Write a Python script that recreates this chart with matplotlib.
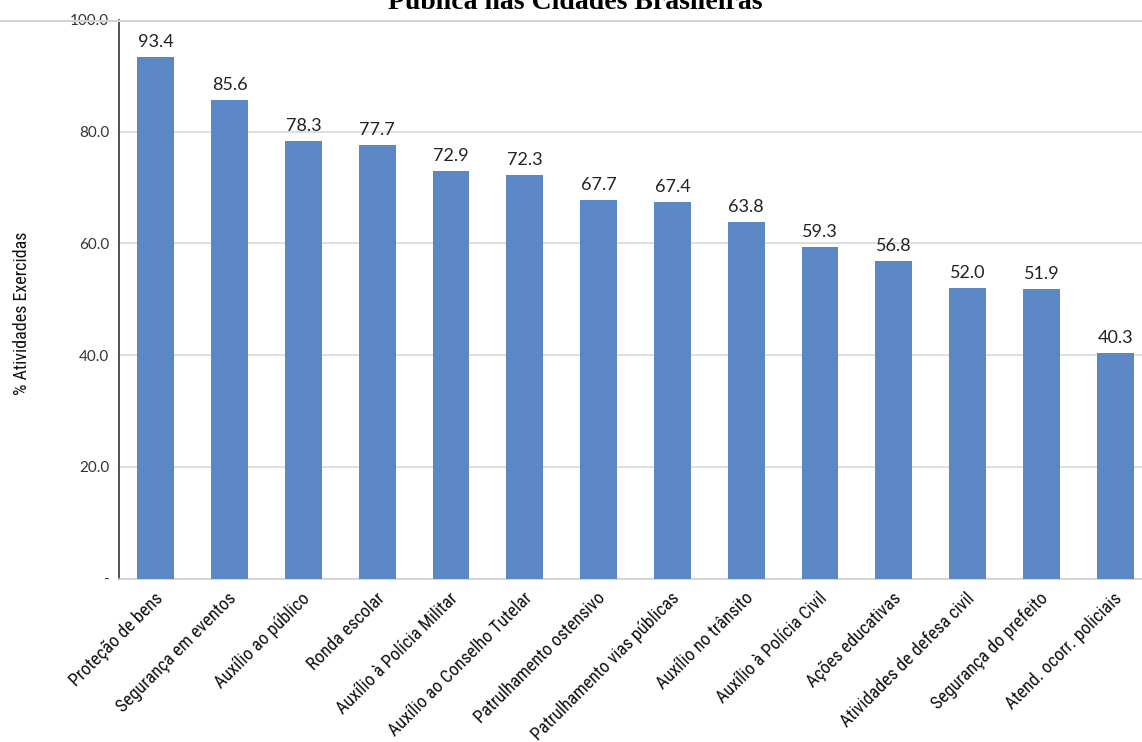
import matplotlib
matplotlib.use("Agg")
import matplotlib.pyplot as plt
from matplotlib.lines import Line2D
import matplotlib.transforms as mtransforms
import logging
logging.getLogger("matplotlib.font_manager").setLevel(logging.ERROR)

categories = ["Proteção de bens", "Segurança em eventos", "Auxílio ao público",
              "Ronda escolar", "Auxílio à Polícia Militar", "Auxílio ao Conselho Tutelar",
              "Patrulhamento ostensivo", "Patrulhamento vias públicas", "Auxílio no trânsito",
              "Auxílio à Polícia Civil", "Ações educativas", "Atividades de defesa civil",
              "Segurança do prefeito", "Atend. ocorr. policiais"]
values = [93.4, 85.6, 78.3, 77.7, 72.9, 72.3, 67.7, 67.4, 63.8, 59.3, 56.8, 52.0, 51.9, 40.3]
yticks = [0, 20, 40, 60, 80, 100]
ytick_labels = ["-", "20.0", "40.0", "60.0", "80.0", "100.0"]
title = "Pública nas Cidades Brasileiras"
ylabel = "% Atividades Exercidas"

W, H = 1142, 742
fig = plt.figure(figsize=(W / 100, H / 100), dpi=100)
fig.patch.set_facecolor("white")

cond = ["Liberation Sans Narrow", "Roboto Condensed", "Archivo Narrow", "DejaVu Sans"]
numfont = ["Lato", "DejaVu Sans"]

left, right, top, bottom = 119, 1152, 20, 578.5
ax = fig.add_axes([left / W, 1 - bottom / H, (right - left) / W, (bottom - top) / H])
x = list(range(len(categories)))
bars = ax.bar(x, values, width=0.5, color="#5B87C6", zorder=3)
ax.set_xlim(-0.5, len(categories) - 0.5)
ax.set_ylim(0, 100)
ax.set_yticks(yticks)
ax.set_yticklabels(ytick_labels, fontfamily=numfont, fontsize=11, color="#333333")
ax.yaxis.grid(True, color="#d9d9d9", linewidth=1.2, zorder=0)
ax.set_axisbelow(True)
ax.tick_params(axis="y", length=0, pad=7)
ax.tick_params(axis="x", length=0, pad=2)
for s in ["top", "right"]:
    ax.spines[s].set_visible(False)
ax.spines["left"].set_color("#444444")
ax.spines["left"].set_linewidth(1.3)
ax.spines["bottom"].set_color("#d0d0d0")
ax.spines["bottom"].set_linewidth(1.2)

ax.set_xticks(x)
ax.set_xticklabels(categories, rotation=45, ha="right", va="top",
                   rotation_mode="anchor", fontfamily=cond, fontsize=13, color="#111111")
offset = mtransforms.ScaledTranslation(-2 / 100, -8 / 100, fig.dpi_scale_trans)
for lbl in ax.get_xticklabels():
    lbl.set_transform(lbl.get_transform() + offset)

for xi, v in zip(x, values):
    ax.annotate(f"{v:.1f}", (xi, v), xytext=(0, 5), textcoords="offset points",
                ha="center", va="bottom", fontfamily=numfont, fontsize=13, color="#222222")

fig.text(22 / W, 1 - 313 / H, ylabel, rotation=90, ha="center", va="center",
         fontfamily=cond, fontsize=13, color="#111111")

fig.text(575 / W, 1 - 9 / H, title, ha="center", va="baseline",
         fontfamily=["Liberation Serif", "DejaVu Serif"], fontweight="bold",
         fontsize=20, color="black")
fig.add_artist(Line2D([0, 1], [1 - 21 / H, 1 - 21 / H], transform=fig.transFigure,
                      color="#d4d4d4", linewidth=1.5))

fig.savefig("out.png", dpi=100, facecolor="white")
